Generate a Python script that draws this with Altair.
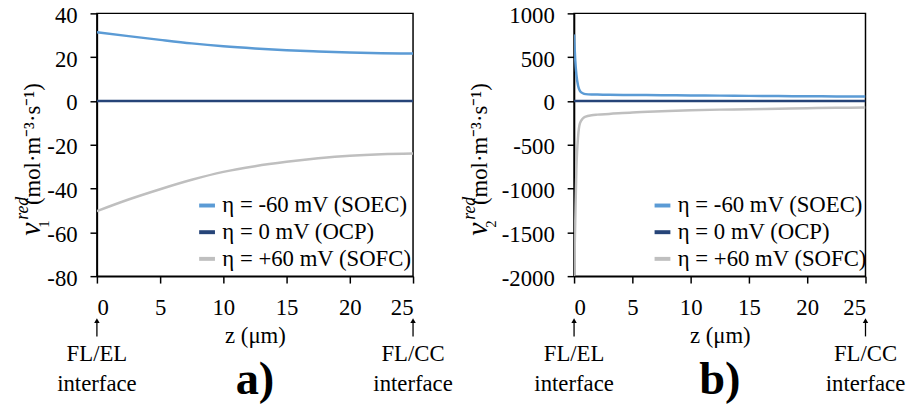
import altair as alt
import pandas as pd

FONT = "Times New Roman"

series = ["η = -60 mV (SOEC)", "η = 0 mV (OCP)", "η = +60 mV (SOFC)"]
colors = ["#5B9BD5", "#264478", "#BFBFBF"]

x_ticks = [0, 5, 10, 15, 20, 25]

# panel a)
z_a = [0, 2.5, 5, 7.5, 10, 12.5, 15, 17.5, 20, 22.5, 25]
soec_a = [31.4, 29.6, 27.9, 26.3, 25.0, 24.0, 23.2, 22.6, 22.1, 21.8, 21.7]
ocp_a = [0, 0, 0, 0, 0, 0, 0, 0, 0, 0, 0]
sofc_a = [-50.3, -45.0, -40.3, -36.0, -32.4, -29.8, -27.8, -26.2, -25.0, -24.3, -24.0]
y_ticks_a = [-80, -60, -40, -20, 0, 20, 40]

# panel b)
z_b = [0, 0.05, 0.1, 0.2, 0.35, 0.5, 0.75, 1, 1.5, 2, 3, 5, 7.5, 10, 12.5, 15, 17.5, 20, 22.5, 25]
soec_b = [760, 600, 470, 300, 170, 115, 88, 78, 74, 73, 71, 68, 66, 63, 61, 58, 56, 54, 52, 50]
ocp_b = [0] * len(z_b)
sofc_b = [-2000, -1700, -1380, -780, -400, -255, -200, -178, -163, -156, -148, -131, -117, -105, -99, -94, -88, -82, -78, -75]
y_ticks_b = [-2000, -1500, -1000, -500, 0, 500, 1000]

ann_z = [0, 25]
ann_line1 = ["FL/EL", "FL/CC"]
ann_line2 = ["interface", "interface"]
panel_labels = ["a)", "b)"]
subscripts = ["1", "2"]
title_main = "(mol·m⁻³·s⁻¹)"


def tmark(text, x, y, size, style="normal", weight="normal", align="left", angle=270):
    return alt.Chart(pd.DataFrame({"t": [text]})).mark_text(
        font=FONT, fontSize=size, fontStyle=style, fontWeight=weight, align=align,
        baseline="alphabetic", angle=angle, color="black"
    ).encode(x=alt.value(x), y=alt.value(y), text="t:N")


def panel(z, s1, s2, s3, yticks, sub, label, width, tshift, legx):
    rows = []
    for name, vals in zip(series, [s1, s2, s3]):
        for zz, v in zip(z, vals):
            rows.append({"z": zz, "v": v, "series": name})
    df = pd.DataFrame(rows)
    xscale = alt.Scale(domain=[0, 25], nice=False)
    lines = alt.Chart(df).mark_line(strokeWidth=2.5, interpolate="monotone", clip=True).encode(
        x=alt.X("z:Q", scale=xscale,
                axis=alt.Axis(values=x_ticks, title="z (μm)", labelPadding=14, titlePadding=5,
                              labelFont=FONT, titleFont=FONT, labelFontSize=23, titleFontSize=23,
                              titleFontWeight="normal")),
        y=alt.Y("v:Q", scale=alt.Scale(domain=[yticks[0], yticks[-1]], nice=False),
                axis=alt.Axis(values=yticks, title="", labelExpr="'' + datum.value",
                              labelPadding=13, labelOffset=2, labelFont=FONT, labelFontSize=23)),
        color=alt.Color("series:N", scale=alt.Scale(domain=series, range=colors),
                        legend=alt.Legend(title=None, orient="none", legendX=legx, legendY=183,
                                          symbolType="stroke", symbolStrokeWidth=4,
                                          symbolSize=256, labelFont=FONT, labelFontSize=23,
                                          labelLimit=400, labelOffset=4,
                                          rowPadding=3, labelColor="black", padding=0)),
    )
    adf = pd.DataFrame({"z": ann_z, "l1": ann_line1, "l2": ann_line2})
    shafts = alt.Chart(adf).mark_rule(color="black", strokeWidth=1.3).encode(
        x=alt.X("z:Q", scale=xscale), y=alt.value(312), y2=alt.value(327))
    heads = alt.Chart(adf).mark_point(shape="triangle-up", filled=True, color="black", size=30, opacity=1).encode(
        x=alt.X("z:Q", scale=xscale), y=alt.value(311))
    t1 = alt.Chart(adf).mark_text(font=FONT, fontSize=23, color="black").encode(
        x=alt.X("z:Q", scale=xscale), y=alt.value(345), text="l1:N")
    t2 = alt.Chart(adf).mark_text(font=FONT, fontSize=23, color="black").encode(
        x=alt.X("z:Q", scale=xscale), y=alt.value(375), text="l2:N")
    ldf = pd.DataFrame({"t": [label]})
    lab = alt.Chart(ldf).mark_text(font=FONT, fontSize=47, fontWeight="bold", color="black").encode(
        x=alt.value(width / 2), y=alt.value(371), text="t:N")
    # y-axis title built from pieces: nu (italic), subscript, superscript "red", units
    nu = tmark("ν", -58 + tshift, 225, 30, style="italic")
    sb = tmark(sub, -49 + tshift, 217, 15)
    sp = tmark("red", -70 + tshift, 209, 18, style="italic")
    un = tmark(title_main, -58 + tshift, 194, 23)
    return alt.layer(lines, shafts, heads, t1, t2, lab, nu, sb, sp, un).properties(width=width, height=266)


pa = panel(z_a, soec_a, ocp_a, sofc_a, y_ticks_a, subscripts[0], panel_labels[0], 320, 0, 100)
pb = panel(z_b, soec_b, ocp_b, sofc_b, y_ticks_b, subscripts[1], panel_labels[1], 295, -30, 78)

chart = alt.hconcat(pa, pb, spacing=7).resolve_scale(
    color="independent", x="independent", y="independent"
).configure_view(
    stroke="black", strokeWidth=1.5
).configure_axis(
    grid=False, domainColor="black", domainWidth=1.5, tickColor="black", tickWidth=1.5, tickSize=7,
    labelColor="black", titleColor="black"
).properties(padding={"left": 5, "top": -7, "right": 0, "bottom": 0})

chart.save("out.html", embed_options={"renderer": "svg", "actions": False})
